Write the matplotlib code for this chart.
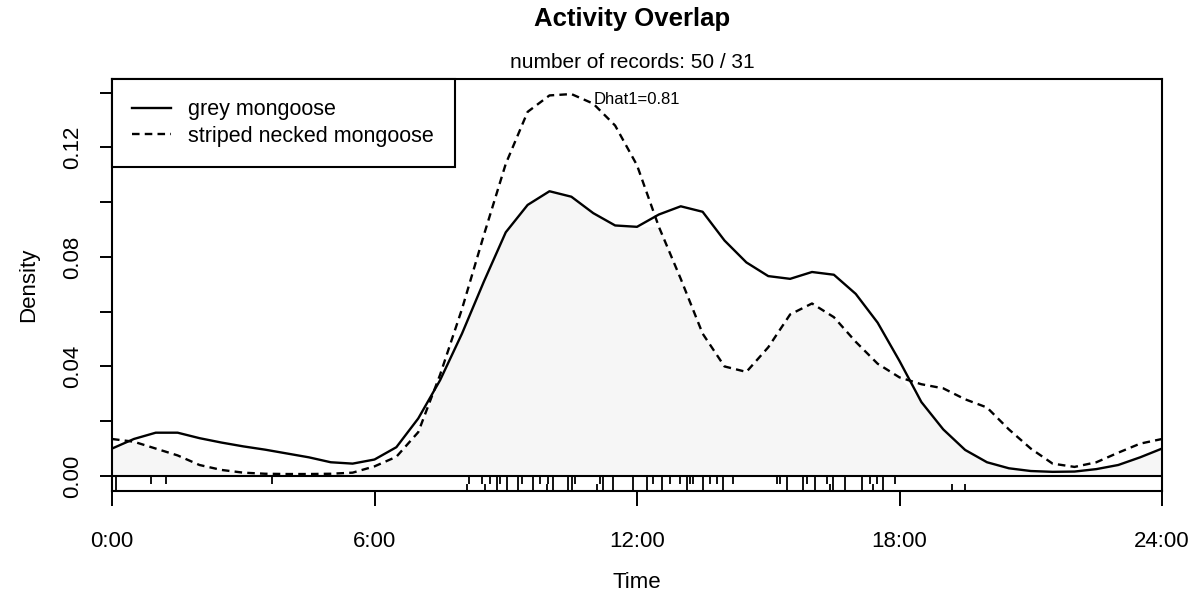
import numpy as np
import matplotlib
matplotlib.use("Agg")
import matplotlib.pyplot as plt

plt.rcParams['font.family'] = ['Liberation Sans', 'DejaVu Sans']

# density curves, every half hour
hours = np.arange(0, 24.01, 0.5)
grey_density = [0.010, 0.0135, 0.0158, 0.0158, 0.0138, 0.0122, 0.0108, 0.0096, 0.0082,
                0.0068, 0.0050, 0.0045, 0.0060, 0.0105, 0.021, 0.035, 0.052, 0.071,
                0.089, 0.099, 0.104, 0.102, 0.096, 0.0915, 0.091, 0.0955, 0.0985,
                0.0965, 0.086, 0.078, 0.073, 0.072, 0.0745, 0.0735, 0.0665, 0.056,
                0.042, 0.027, 0.017, 0.0095, 0.005, 0.0028, 0.0018, 0.0015, 0.0016,
                0.0025, 0.004, 0.0068, 0.010]
striped_density = [0.0135, 0.0125, 0.010, 0.0075, 0.004, 0.0022, 0.0012, 0.0008, 0.0007,
                   0.0007, 0.0008, 0.0012, 0.0035, 0.007, 0.016, 0.037, 0.061, 0.088,
                   0.114, 0.133, 0.139, 0.1395, 0.136, 0.128, 0.1135, 0.091, 0.072,
                   0.052, 0.040, 0.038, 0.047, 0.059, 0.063, 0.058, 0.049, 0.041,
                   0.036, 0.0335, 0.032, 0.028, 0.025, 0.017, 0.010, 0.0045, 0.0033,
                   0.005, 0.0085, 0.0118, 0.0135]

# record times (rug)
grey_times = [0.09, 0.89, 1.23, 3.66, 8.16, 8.46, 8.64, 8.80, 8.87, 9.03, 9.28, 9.37,
              9.62, 9.78, 9.97, 10.08, 10.42, 10.51, 10.58, 11.15, 11.22, 11.45, 11.91,
              12.23, 12.37, 12.57, 12.75, 12.98, 13.14, 13.21, 13.28, 13.51, 13.67,
              13.83, 13.97, 14.19, 15.20, 15.27, 15.43, 15.79, 15.89, 16.07, 16.34,
              16.48, 16.75, 17.14, 17.33, 17.48, 17.62, 17.90]
striped_times = [0.09, 8.11, 8.52, 8.80, 9.03, 9.28, 9.62, 9.94, 10.08, 10.42, 10.51,
                 11.09, 11.22, 11.45, 11.91, 12.23, 12.57, 13.14, 13.51, 13.97, 15.43,
                 15.79, 16.07, 16.41, 16.48, 16.75, 17.14, 17.40, 17.62, 19.20, 19.50]

xtick_pos = [0, 6, 12, 18, 24]
xtick_labels = ["0:00", "6:00", "12:00", "18:00", "24:00"]
ytick_pos = [0, 0.02, 0.04, 0.06, 0.08, 0.10, 0.12, 0.14]
ytick_labels = ["0.00", "", "0.04", "", "0.08", "", "0.12", ""]

fig = plt.figure(figsize=(12.02, 5.96), dpi=100)
ax = fig.add_axes([112 / 1202, 1 - 491 / 596, 1050 / 1202, 412 / 596])

grey = np.array(grey_density)
striped = np.array(striped_density)
ax.fill_between(hours, 0, np.minimum(grey, striped), color='#f6f6f6', lw=0)
ax.plot(hours, grey, color='black', lw=1.7, label='grey mongoose')
ax.plot(hours, striped, color='black', lw=1.7, ls=(0, (3.2, 2.2)), label='striped necked mongoose')

ax.axhline(0, color='black', lw=1.5)
ax.vlines(grey_times, -0.0028, 0, color='black', lw=1.3)
ax.vlines(striped_times, -0.0055, -0.0028, color='black', lw=1.3)

ax.set_xlim(0, 24)
ax.set_ylim(-0.0055, 0.145)
ax.set_xticks(xtick_pos)
ax.set_xticklabels(xtick_labels)
ax.set_yticks(ytick_pos)
ax.set_yticklabels(ytick_labels, rotation=90, va='center')
ax.tick_params(axis='x', length=11, width=1.4, labelsize=16, pad=18)
ax.tick_params(axis='y', length=9, width=1.4, labelsize=16, pad=12)
for s in ax.spines.values():
    s.set_linewidth(1.5)

ax.set_xlabel("Time", fontsize=16, labelpad=14)
ax.set_ylabel("Density", fontsize=16, labelpad=16)

ax.text(12, 0.1375, "Dhat1=0.81", fontsize=12, ha='center', va='center')

leg = ax.legend(loc='upper left', borderaxespad=0, fancybox=False, fontsize=15.5,
                handlelength=1.8, handletextpad=0.8, labelspacing=0.25, borderpad=0.95)
leg.get_frame().set_edgecolor('black')
leg.get_frame().set_linewidth(1.5)
leg.get_frame().set_alpha(1)

fig.text(0.526, 0.968, "Activity Overlap", fontsize=18.5, fontweight='bold', ha='center', va='center')
fig.text(0.526, 0.895, "number of records: 50 / 31", fontsize=15, ha='center', va='center')

fig.savefig("out.png", dpi=100)
